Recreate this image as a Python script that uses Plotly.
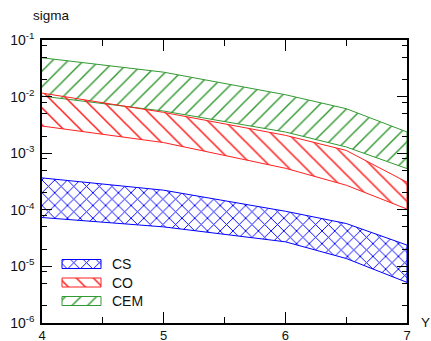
import plotly.graph_objects as go

# ---- data ----
Y = [4.0, 5.0, 6.0, 6.5, 7.0]
cs_upper = [3.66e-4, 2.22e-4, 9.44e-5, 5.73e-5, 2.38e-5]
cs_lower = [7.31e-5, 4.99e-5, 2.72e-5, 1.38e-5, 5.22e-6]
co_upper = [1.153e-2, 5.26e-3, 2.07e-3, 1.12e-3, 3.07e-4]
co_lower = [3.02e-3, 1.54e-3, 5.42e-4, 2.72e-4, 1.03e-4]
cem_upper = [4.85e-2, 2.70e-2, 1.08e-2, 6.12e-3, 2.37e-3]
cem_lower = [1.02e-2, 5.55e-3, 2.37e-3, 1.29e-3, 5.35e-4]

names = ["CS", "CO", "CEM"]
x_tickvals = [4, 5, 6, 7]
x_ticktext = ["4", "5", "6", "7"]
y_tickvals = [1e-6, 1e-5, 1e-4, 1e-3, 1e-2, 1e-1]
y_ticktext = ["10<sup>-6</sup>", "10<sup>-5</sup>", "10<sup>-4</sup>",
              "10<sup>-3</sup>", "10<sup>-2</sup>", "10<sup>-1</sup>"]
y_minor = [m * 10.0 ** e for e in range(-6, -1) for m in (2, 5, 8)]

# ---- styles ----
colors = {"CS": "#0000ff", "CO": "#ff2020", "CEM": "#339933"}
shapes = {"CS": "x", "CO": "\\", "CEM": "/"}
sizes = {"CS": 9, "CO": 12, "CEM": 11}
solid = {"CS": 0.2, "CO": 0.13, "CEM": 0.13}
FONT = "Liberation Sans, Arial, sans-serif"

bands = {"CS": (cs_upper, cs_lower), "CO": (co_upper, co_lower),
         "CEM": (cem_upper, cem_lower)}


def pattern(n):
    return dict(shape=shapes[n], fgcolor=colors[n], bgcolor="rgba(0,0,0,0)",
                size=sizes[n], solidity=solid[n], fillmode="replace")


fig = go.Figure()
for n in ["CEM", "CO", "CS"]:
    up, lo = bands[n]
    fig.add_trace(go.Scatter(
        x=Y + Y[::-1], y=up + lo[::-1], mode="lines", fill="toself",
        line=dict(color=colors[n], width=1),
        fillcolor="rgba(0,0,0,0)", fillpattern=pattern(n),
        name=n, showlegend=False, hoverinfo="skip"))

# ---- custom legend (overlay axes in pixel units of the plot area) ----
PW, PH = 365, 283
LEG_X0, LEG_W, LEG_H, LEG_TOP, LEG_PITCH = 20, 39, 9, 63.5, 18.5
for i, n in enumerate(names):
    top = LEG_TOP - i * LEG_PITCH
    bot = top - LEG_H
    fig.add_trace(go.Scatter(
        x=[LEG_X0, LEG_X0 + LEG_W, LEG_X0 + LEG_W, LEG_X0, LEG_X0],
        y=[bot, bot, top, top, bot], xaxis="x2", yaxis="y2",
        mode="lines", fill="toself",
        line=dict(color=colors[n], width=1),
        fillcolor="rgba(0,0,0,0)", fillpattern=pattern(n),
        showlegend=False, hoverinfo="skip"))
    fig.add_annotation(x=LEG_X0 + LEG_W + 9, y=(top + bot) / 2, xref="x2",
                       yref="y2", text=n, showarrow=False, xanchor="left",
                       yanchor="middle", font=dict(size=14, color="#111"))

axis_common = dict(showline=True, linecolor="black", linewidth=1.5,
                   mirror="allticks", ticks="inside", tickcolor="black",
                   tickwidth=1, showgrid=False, zeroline=False,
                   automargin=False)

fig.update_layout(
    template="none",
    width=431, height=341,
    margin=dict(l=42, r=24, t=40, b=18),
    paper_bgcolor="white", plot_bgcolor="white",
    font=dict(family=FONT, size=13, color="#111"),
    showlegend=False,
    xaxis=dict(range=[4, 7], tickvals=x_tickvals, ticktext=x_ticktext,
               ticklen=11, ticklabelstandoff=0,
               tickfont=dict(size=13),
               minor=dict(tickvals=[4.5, 5.5, 6.5], ticklen=6,
                          ticks="inside", tickcolor="black"),
               **axis_common),
    yaxis=dict(type="log", range=[-6, -1], tickvals=y_tickvals,
               ticktext=y_ticktext, ticklen=10, ticklabelstandoff=3,
               tickfont=dict(size=14),
               minor=dict(tickvals=y_minor, ticklen=5, ticks="inside",
                          tickcolor="black"),
               **axis_common),
    xaxis2=dict(range=[0, PW], overlaying="x", visible=False),
    yaxis2=dict(range=[0, PH], overlaying="y", visible=False),
)

fig.add_annotation(xref="paper", yref="paper", x=(31 - 42) / PW,
                   y=1 + (40 - 15) / PH, text="sigma", showarrow=False,
                   xanchor="left", yanchor="middle", font=dict(size=13.5))
fig.add_annotation(xref="paper", yref="paper", x=(425 - 42) / PW,
                   y=(323 - 322) / PH, text="Y", showarrow=False,
                   xanchor="center", yanchor="middle", font=dict(size=13.5),
                   borderpad=0)

fig.write_html(
    "out.html",
    config={"displayModeBar": False},
    post_script="document.body.style.margin='0';"
                "document.body.style.padding='0';"
                "document.body.style.overflow='hidden';",
)
